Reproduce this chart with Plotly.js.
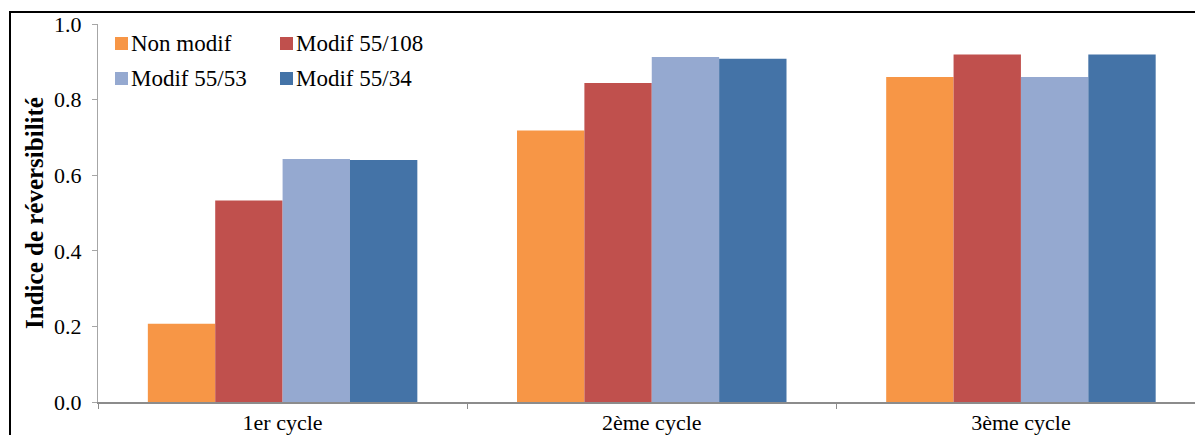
<!DOCTYPE html>
<html>
<head>
<meta charset="utf-8">
<script src="https://cdn.plot.ly/plotly-3.0.1.min.js"></script>
<style>
  html, body { margin: 0; padding: 0; overflow: hidden; background: #fff; }
  #chart { position: absolute; left: 0; top: 0; width: 1195px; height: 435px; }
  #frame { position: absolute; left: 9px; top: 11px; width: 3000px; height: 3000px;
           border-left: 2px solid #000; border-top: 2px solid #000; pointer-events: none; }
</style>
</head>
<body>
<div id="chart"></div>
<div id="frame"></div>
<script>
const categories = ["1er cycle", "2ème cycle", "3ème cycle"];
const seriesNames = ["Non modif", "Modif 55/108", "Modif 55/53", "Modif 55/34"];
const nonModif = [0.207, 0.718, 0.860];
const modif55_108 = [0.533, 0.844, 0.919];
const modif55_53 = [0.643, 0.913, 0.860];
const modif55_34 = [0.640, 0.908, 0.919];
const colors = ["#F79646", "#C0504D", "#95A9D0", "#4473A7"];
const yTickVals = [0, 0.2, 0.4, 0.6, 0.8, 1.0];
const yTickText = ["0.0", "0.2", "0.4", "0.6", "0.8", "1.0"];

const values = [nonModif, modif55_108, modif55_53, modif55_34];

const traces = seriesNames.map((name, i) => ({
  type: "bar",
  name: name,
  x: categories,
  y: values[i],
  marker: { color: colors[i], line: { width: 0 } },
  hoverinfo: "x+y+name"
}));

const FAMILY = "Liberation Serif, Times New Roman, serif";
function f(size) { return { family: FAMILY, size: size, color: "#000" }; }

// plot-area geometry in pixels (for placing the legend block)
const W = 1195, H = 435, ML = 98, MR = 0, MT = 24, MB = 33;
const PW = W - ML - MR, PH = H - MT - MB;
const px = (x) => (x - ML) / PW;
const py = (y) => (H - MB - y) / PH;

// legend layout: 2 columns x 2 rows
const legCols = [115, 280];
const legRows = [43.5, 78.5];
const sw = 13;

const shapes = [];
const annotations = [];
seriesNames.forEach((name, i) => {
  const cx = legCols[i % 2];
  const cy = legRows[Math.floor(i / 2)];
  shapes.push({
    type: "rect", xref: "paper", yref: "paper",
    x0: px(cx), x1: px(cx + sw), y0: py(cy + sw / 2), y1: py(cy - sw / 2),
    fillcolor: colors[i], line: { width: 0 }, layer: "above"
  });
  annotations.push({
    xref: "paper", yref: "paper", x: px(cx + sw + 2), y: py(cy),
    xanchor: "left", yanchor: "middle", showarrow: false,
    text: name, font: f(23), borderpad: 0
  });
});

const layout = {
  width: W,
  height: H,
  margin: { l: ML, r: MR, t: MT, b: MB, pad: 0 },
  paper_bgcolor: "#ffffff",
  plot_bgcolor: "#ffffff",
  font: f(22),
  barmode: "group",
  bargap: 0.27,
  bargroupgap: 0,
  showlegend: false,
  shapes: shapes,
  annotations: annotations,
  xaxis: {
    type: "category",
    range: [-0.5, 2.4715],
    showline: true,
    linecolor: "#8c8c8c",
    linewidth: 2,
    showgrid: false,
    zeroline: false,
    ticks: "outside",
    tickson: "boundaries",
    ticklen: 5,
    tickwidth: 1,
    tickcolor: "#8c8c8c",
    ticklabelstandoff: 0,
    tickfont: f(22),
    fixedrange: true
  },
  yaxis: {
    range: [0, 1.0],
    tickvals: yTickVals,
    ticktext: yTickText,
    showline: true,
    linecolor: "#a6a6a6",
    linewidth: 1,
    showgrid: false,
    zeroline: false,
    ticks: "outside",
    ticklen: 5,
    tickwidth: 1,
    tickcolor: "#a6a6a6",
    ticklabelstandoff: 6,
    tickfont: f(22),
    title: {
      text: "<b>Indice de réversibilité</b>",
      font: f(25),
      standoff: 3
    },
    automargin: false,
    fixedrange: true
  }
};

Plotly.newPlot("chart", traces, layout, { displayModeBar: false });
</script>
</body>
</html>
